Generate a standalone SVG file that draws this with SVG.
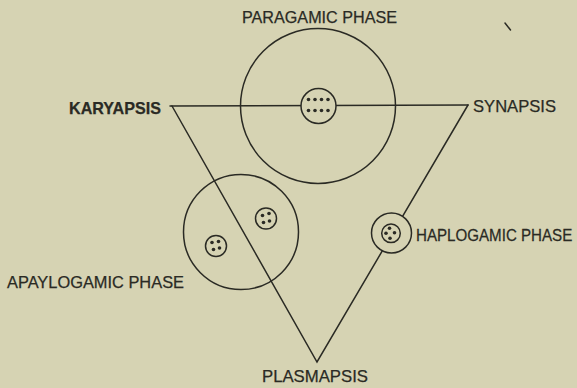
<svg xmlns="http://www.w3.org/2000/svg" width="577" height="388" viewBox="0 0 577 388">
<style>
.ln{fill:none;stroke:#2a2a24;stroke-width:1.5;stroke-linecap:round}
.c{fill:none;stroke:#2a2a24;stroke-width:1.5}
.cf{fill:#d6d3b3;stroke:#2a2a24;stroke-width:1.5}
.d{fill:#2a2a24}
.t{font-family:"Liberation Sans",Arial,sans-serif;font-size:17px;fill:#2a2a24;stroke:#2a2a24;stroke-width:0.25}
</style>
<rect width="577" height="388" fill="#d6d3b3"/>
<g id="connectors">
<line class="ln" x1="170" y1="106" x2="468" y2="105"/>
<polyline class="ln" points="172,106 317,362 468,105"/>
</g>
<g id="paragamic">
<circle class="c" cx="318" cy="106" r="77.5"/>
<circle class="cf" cx="318.5" cy="106" r="17.5"/>
<g class="d">
<circle cx="308.5" cy="99.5" r="1.8"/><circle cx="315" cy="99.5" r="1.8"/><circle cx="321.5" cy="99.5" r="1.8"/><circle cx="328" cy="99.5" r="1.8"/>
<circle cx="308.5" cy="110.5" r="1.8"/><circle cx="315" cy="110.5" r="1.8"/><circle cx="321.5" cy="110.5" r="1.8"/><circle cx="328" cy="110.5" r="1.8"/>
</g>
<text class="t" x="242" y="22.5" textLength="155" lengthAdjust="spacingAndGlyphs">PARAGAMIC PHASE</text>
</g>
<g id="apaylogamic">
<circle class="c" cx="241" cy="232" r="57.5"/>
<circle class="c" cx="266" cy="218.5" r="10.5"/>
<g class="d">
<circle cx="262.5" cy="215.5" r="1.8"/><circle cx="269" cy="213.5" r="1.8"/><circle cx="263.5" cy="222.5" r="1.8"/><circle cx="269.5" cy="221" r="1.8"/>
</g>
<circle class="c" cx="216" cy="246" r="10.5"/>
<g class="d">
<circle cx="212" cy="242.5" r="1.8"/><circle cx="218.5" cy="241.5" r="1.8"/><circle cx="213.5" cy="249.5" r="1.8"/><circle cx="219.5" cy="248" r="1.8"/>
</g>
<text class="t" x="7" y="288" textLength="177" lengthAdjust="spacingAndGlyphs">APAYLOGAMIC PHASE</text>
</g>
<g id="haplogamic">
<circle class="cf" cx="391.5" cy="233" r="20"/>
<circle class="c" cx="391" cy="233.3" r="9.3"/>
<g class="d">
<circle cx="389.5" cy="228.3" r="1.8"/><circle cx="386" cy="233.3" r="1.8"/><circle cx="394.5" cy="232.7" r="1.8"/><circle cx="390" cy="238.3" r="1.8"/>
</g>
<text class="t" transform="translate(416,240.5) scale(0.89,1)" x="0" y="0">HAPLOGAMIC PHASE</text>
</g>
<g id="karyapsis">
<text class="t" x="69" y="114" textLength="92" lengthAdjust="spacingAndGlyphs" font-weight="bold">KARYAPSIS</text>
</g>
<g id="synapsis">
<text class="t" x="473" y="111.5" textLength="83" lengthAdjust="spacingAndGlyphs">SYNAPSIS</text>
</g>
<g id="plasmapsis">
<text class="t" x="262" y="381.5" textLength="106" lengthAdjust="spacingAndGlyphs">PLASMAPSIS</text>
</g>
<line class="ln" x1="505" y1="23" x2="510.5" y2="30" stroke-width="1.8"/>
</svg>
